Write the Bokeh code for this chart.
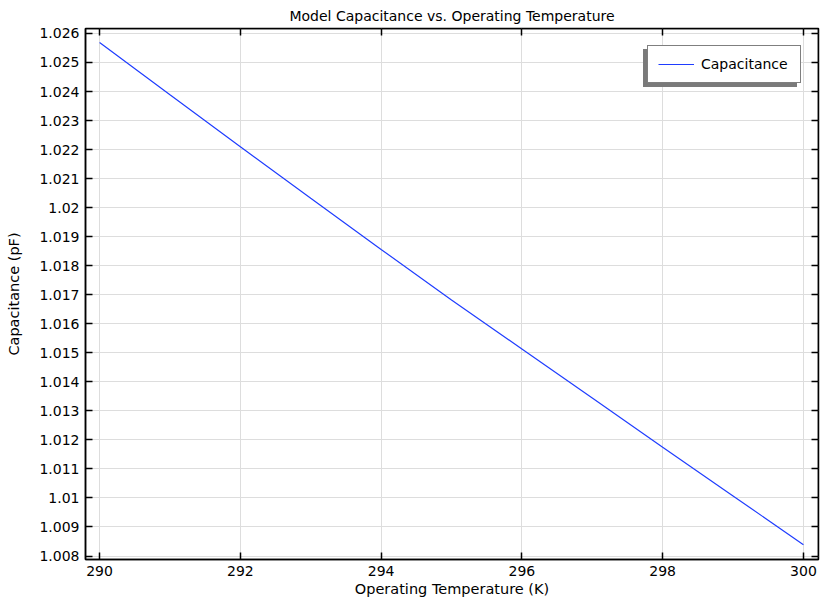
from bokeh.plotting import figure
from bokeh.models import (Range1d, FixedTicker, LinearAxis, Legend, LegendItem,
                          CustomJSTickFormatter)
from bokeh.embed import file_html
from bokeh.resources import INLINE

# ---- data ----
temperature_K = [290, 291, 292, 293, 294, 295, 296, 297, 298, 299, 300]
capacitance_pF = [1.02569, 1.02389, 1.02210, 1.02032, 1.01856, 1.01682,
                  1.01513, 1.01344, 1.01175, 1.01007, 1.00839]

x_ticks = [290, 292, 294, 296, 298, 300]
y_ticks = [1.008, 1.009, 1.010, 1.011, 1.012, 1.013, 1.014, 1.015, 1.016,
           1.017, 1.018, 1.019, 1.020, 1.021, 1.022, 1.023, 1.024, 1.025, 1.026]
y_tick_labels = ["1.008", "1.009", "1.01", "1.011", "1.012", "1.013", "1.014",
                 "1.015", "1.016", "1.017", "1.018", "1.019", "1.02", "1.021",
                 "1.022", "1.023", "1.024", "1.025", "1.026"]

FONT = "DejaVu Sans"
LINE_COLOR = "#1f3dff"
X_MIN, X_MAX = 289.8, 300.214
Y_MIN, Y_MAX = 1.00788, 1.02617

p = figure(width=820, height=600, output_backend="svg", toolbar_location=None,
           x_range=Range1d(X_MIN, X_MAX), y_range=Range1d(Y_MIN, Y_MAX),
           min_border_left=85, min_border_right=2, min_border_top=23,
           min_border_bottom=41)

p.title.text = "Model Capacitance vs. Operating Temperature"
p.title.align = "center"
p.title.text_font = FONT
p.title.text_font_size = "14px"
p.title.text_font_style = "normal"
p.title.text_color = "#000000"

p.outline_line_color = "#000000"
p.outline_line_width = 1.5
p.background_fill_color = "white"
p.border_fill_color = "white"

for g in (p.xgrid[0], p.ygrid[0]):
    g.grid_line_color = "#dddddd"
    g.grid_line_width = 1
p.xgrid[0].ticker = FixedTicker(ticks=x_ticks)
p.ygrid[0].ticker = FixedTicker(ticks=y_ticks)

xa = p.xaxis[0]
xa.ticker = FixedTicker(ticks=x_ticks)
xa.axis_label = "Operating Temperature (K)"
ya = p.yaxis[0]
ya.ticker = FixedTicker(ticks=y_ticks)
ya.major_label_overrides = {t: l for t, l in zip(y_ticks, y_tick_labels)}
ya.axis_label = "Capacitance (pF)"

for ax in (xa, ya):
    ax.major_tick_in = 7
    ax.major_tick_out = 0
    ax.minor_tick_in = 0
    ax.minor_tick_out = 0
    ax.axis_line_color = "#000000"
    ax.axis_line_width = 1.5
    ax.major_tick_line_color = "#000000"
    ax.major_tick_line_width = 1.5
    ax.major_label_text_font = FONT
    ax.major_label_text_font_size = "14px"
    ax.major_label_text_color = "#000000"
    ax.major_label_text_line_height = 1.0
    ax.axis_label_text_font = FONT
    ax.axis_label_text_font_size = "14.5px"
    ax.axis_label_text_font_style = "normal"
    ax.axis_label_text_color = "#000000"
    ax.axis_label_text_line_height = 1.0
xa.major_label_standoff = 6
xa.axis_label_standoff = 2
ya.major_label_standoff = 6
ya.axis_label_standoff = 14

# frame ticks on top and right (no labels), pinned to the frame edges
blank = CustomJSTickFormatter(code="return ''")
top = LinearAxis(ticker=FixedTicker(ticks=x_ticks), formatter=blank,
                 fixed_location=Y_MAX)
right = LinearAxis(ticker=FixedTicker(ticks=y_ticks), formatter=blank,
                   fixed_location=X_MAX)
for ax in (top, right):
    ax.major_tick_in = 7
    ax.major_tick_out = 0
    ax.minor_tick_in = 0
    ax.minor_tick_out = 0
    ax.major_label_standoff = 0
    ax.major_label_text_font_size = "1px"
    ax.axis_label_standoff = 0
    ax.axis_line_color = "#000000"
    ax.axis_line_width = 1.5
    ax.major_tick_line_width = 1.5
p.add_layout(top, "above")
p.add_layout(right, "right")

line = p.line(temperature_K, capacitance_pF, line_color=LINE_COLOR, line_width=1.2)

# legend with a drop shadow: a grey box of the same size placed 4px left/down
def make_legend(margin, shadow):
    lg = Legend(items=[LegendItem(label="" if shadow else "Capacitance",
                                  renderers=[line])],
                location="top_right", orientation="vertical",
                padding=10, spacing=0, margin=margin,
                glyph_width=36, glyph_height=16, label_standoff=7,
                label_height=16, label_width=89, label_text_font=FONT,
                label_text_font_size="14px")
    if shadow:
        lg.background_fill_color = "#7a7a7a"
        lg.border_line_color = "#7a7a7a"
        lg.label_text_color = "#7a7a7a"
    else:
        lg.background_fill_color = "white"
        lg.border_line_color = "#000000"
        lg.label_text_color = "#000000"
    lg.border_line_width = 1.5
    lg.background_fill_alpha = 1.0
    return lg

p.add_layout(make_legend(21, True), "center")
p.add_layout(make_legend(17, False), "center")

open("out.html", "w").write(file_html(p, INLINE))
